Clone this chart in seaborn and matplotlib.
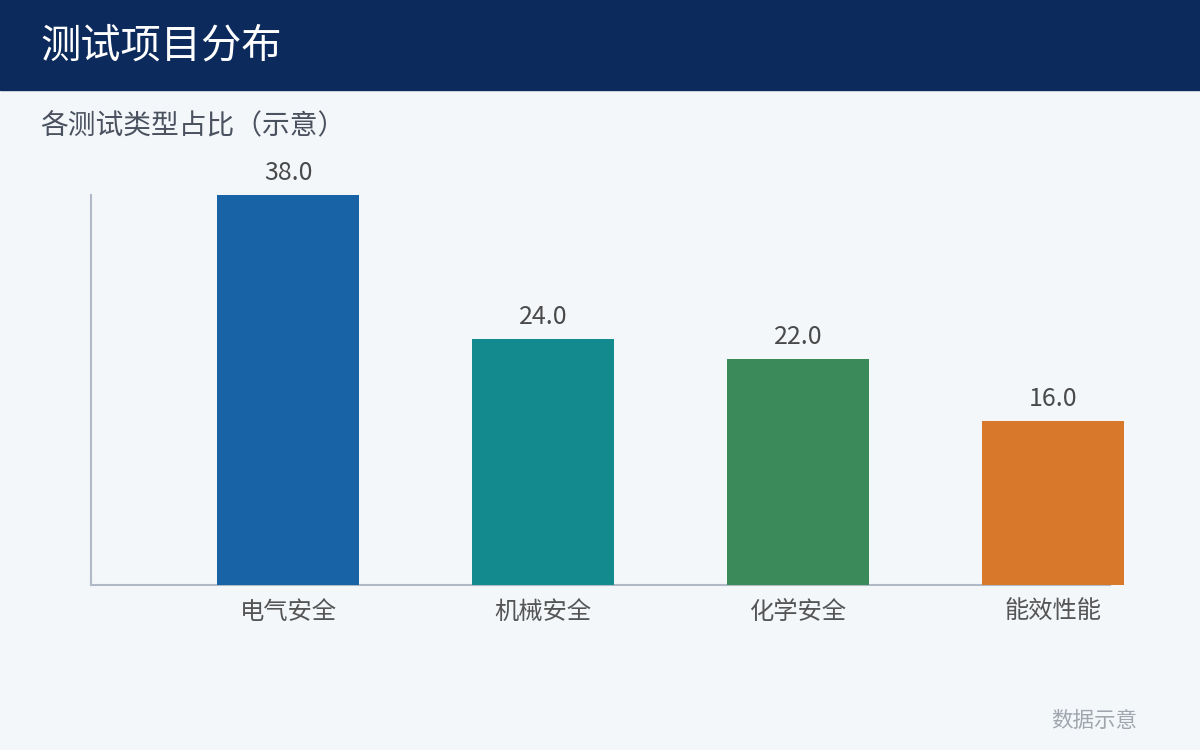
import matplotlib
matplotlib.use("Agg")
import matplotlib.pyplot as plt
import pandas as pd
import seaborn as sns

# data
categories = ["电气安全", "机械安全", "化学安全", "能效性能"]
shares = [38.0, 24.0, 22.0, 16.0]
bar_colors = ["#1763A5", "#138A8D", "#3A8A5A", "#D8782A"]

title = "测试项目分布"
subtitle = "各测试类型占比（示意）"
footer = "数据示意"

bg = "#F4F7FA"
navy = "#0C2A5C"

sns.set_style("white")
plt.rcParams["font.family"] = ["Noto Sans CJK SC", "DejaVu Sans"]

df = pd.DataFrame({"类型": categories, "占比": shares})

fig = plt.figure(figsize=(12, 7.5), dpi=100, facecolor=bg)

# header band
fig.patches.append(plt.Rectangle((0, 1 - 90 / 750), 1, 90 / 750, transform=fig.transFigure,
                                 color=navy, zorder=0))
fig.text(40 / 1200, 1 - 46 / 750, title, color="white", fontsize=29, va="center", ha="left")
fig.text(40 / 1200, 1 - 126 / 750, subtitle, color="#4A5260", fontsize=20, va="center", ha="left")
fig.text(1137 / 1200, 1 - 721 / 750, footer, color="#A0A6AE", fontsize=15.5, va="center", ha="right")

ax = fig.add_axes([91 / 1200, 165 / 750, (1110 - 91) / 1200, 390 / 750])
ax.set_facecolor(bg)

sns.barplot(data=df, x="类型", y="占比", hue="类型", palette=bar_colors, legend=False,
            width=0.56, saturation=1, ax=ax, zorder=3)
for p in ax.patches:
    p.set_clip_on(False)
    p.set_edgecolor("none")

# value labels above the bars
for i, v in enumerate(shares):
    ax.text(i, v + 0.85, f"{v:.1f}", ha="center", va="bottom", fontsize=18, color="#4A4A4A")

ax.set_xlim(-0.773, 3.224)
ax.set_ylim(0, 38)
ax.set_xlabel("")
ax.set_ylabel("")
ax.set_yticks([])
ax.tick_params(axis="x", length=0, labelsize=17.5, labelcolor="#555555", pad=10)
for side in ["top", "right"]:
    ax.spines[side].set_visible(False)
for side in ["left", "bottom"]:
    ax.spines[side].set_color("#B0BAC6")
    ax.spines[side].set_linewidth(1.5)

plt.savefig("out.png", dpi=100, facecolor=bg)
